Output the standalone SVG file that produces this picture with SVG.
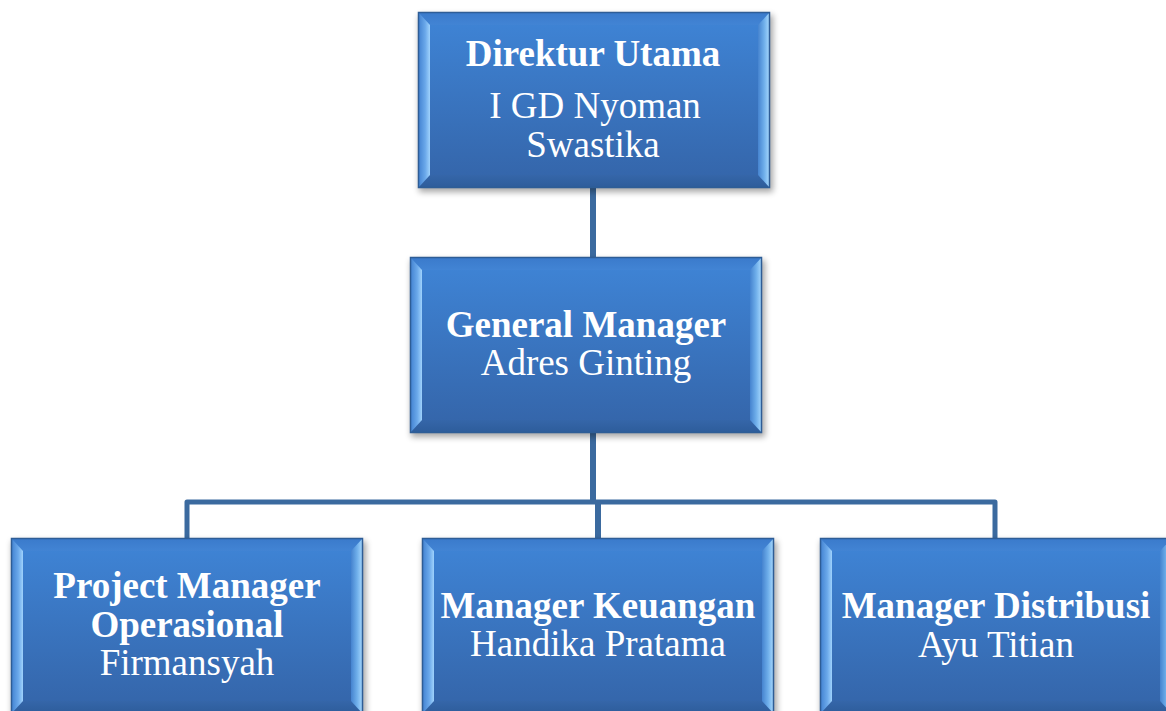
<svg xmlns="http://www.w3.org/2000/svg" width="1166" height="711" viewBox="0 0 1166 711">
  <style>
    .t { font-family: "Liberation Serif", "Times New Roman", serif; font-size: 37px; fill: #ffffff; text-anchor: middle; }
    .b { font-weight: bold; }
    .conn { fill: none; stroke: #3b6a9f; stroke-linejoin: round; stroke-linecap: butt; }
  </style>
  <defs>
    <linearGradient id="face" x1="0" y1="0" x2="0" y2="1">
      <stop offset="0" stop-color="#3f85d7"/>
      <stop offset="1" stop-color="#3464a8"/>
    </linearGradient>
    <linearGradient id="lbev" x1="0" y1="0" x2="1" y2="0">
      <stop offset="0" stop-color="#3f7fcf"/>
      <stop offset="0.6" stop-color="#6aa8ea"/>
      <stop offset="1" stop-color="#9fd2fc"/>
    </linearGradient>
    <linearGradient id="rbev" x1="0" y1="0" x2="1" y2="0">
      <stop offset="0" stop-color="#4583cf"/>
      <stop offset="0.5" stop-color="#6eaeea"/>
      <stop offset="1" stop-color="#acdcff"/>
    </linearGradient>
    <linearGradient id="tbev" x1="0" y1="0" x2="0" y2="1">
      <stop offset="0" stop-color="#3a7acb"/>
      <stop offset="1" stop-color="#4284d4"/>
    </linearGradient>
    <linearGradient id="bbev" x1="0" y1="0" x2="0" y2="1">
      <stop offset="0" stop-color="#3566a9"/>
      <stop offset="1" stop-color="#2d5c9a"/>
    </linearGradient>
    <filter id="sh" x="-10%" y="-10%" width="120%" height="130%">
      <feGaussianBlur stdDeviation="3"/>
    </filter>
    <g id="box">
      <rect x="1" y="3" width="354" height="177" fill="#000000" opacity="0.35" filter="url(#sh)"/>
      <rect x="0" y="0" width="352" height="176" fill="url(#face)"/>
      <polygon points="0,0 352,0 340,13 12,13" fill="url(#tbev)"/>
      <polygon points="0,176 352,176 340,163 12,163" fill="url(#bbev)"/>
      <polygon points="0,0 12,13 12,163 0,176" fill="url(#lbev)"/>
      <polygon points="352,0 340,13 340,163 352,176" fill="url(#rbev)"/>
      <rect x="0.5" y="0.5" width="351" height="175" fill="none" stroke="#2e5d96" stroke-width="1.5"/>
    </g>
  </defs>

  <rect x="0" y="0" width="1166" height="711" fill="#ffffff"/>

  <g id="connectors">
    <line class="conn" x1="593" y1="187" x2="593" y2="258" stroke-width="6"/>
    <line class="conn" x1="593" y1="432" x2="593" y2="502" stroke-width="6"/>
    <path class="conn" d="M187,539 V502 H995 V539" stroke-width="5"/>
    <line class="conn" x1="598" y1="502" x2="598" y2="539" stroke-width="6"/>
  </g>

  <g id="node-direktur">
    <use href="#box" x="418" y="12"/>
    <text class="t b" x="593" y="66">Direktur Utama</text>
    <text class="t" x="595" y="118">I GD Nyoman</text>
    <text class="t" x="593" y="157">Swastika</text>
  </g>

  <g id="node-gm">
    <use href="#box" x="410" y="257"/>
    <text class="t b" x="586" y="337">General Manager</text>
    <text class="t" x="586" y="375">Adres Ginting</text>
  </g>

  <g id="node-pm">
    <use href="#box" x="11" y="538"/>
    <text class="t b" x="187" y="598">Project Manager</text>
    <text class="t b" x="187" y="637">Operasional</text>
    <text class="t" x="187" y="675">Firmansyah</text>
  </g>

  <g id="node-keuangan">
    <use href="#box" x="422" y="538"/>
    <text class="t b" x="598" y="618">Manager Keuangan</text>
    <text class="t" x="598" y="656">Handika Pratama</text>
  </g>

  <g id="node-distribusi">
    <use href="#box" x="820" y="538"/>
    <text class="t b" x="996" y="618">Manager Distribusi</text>
    <text class="t" x="996" y="657">Ayu Titian</text>
  </g>
</svg>
